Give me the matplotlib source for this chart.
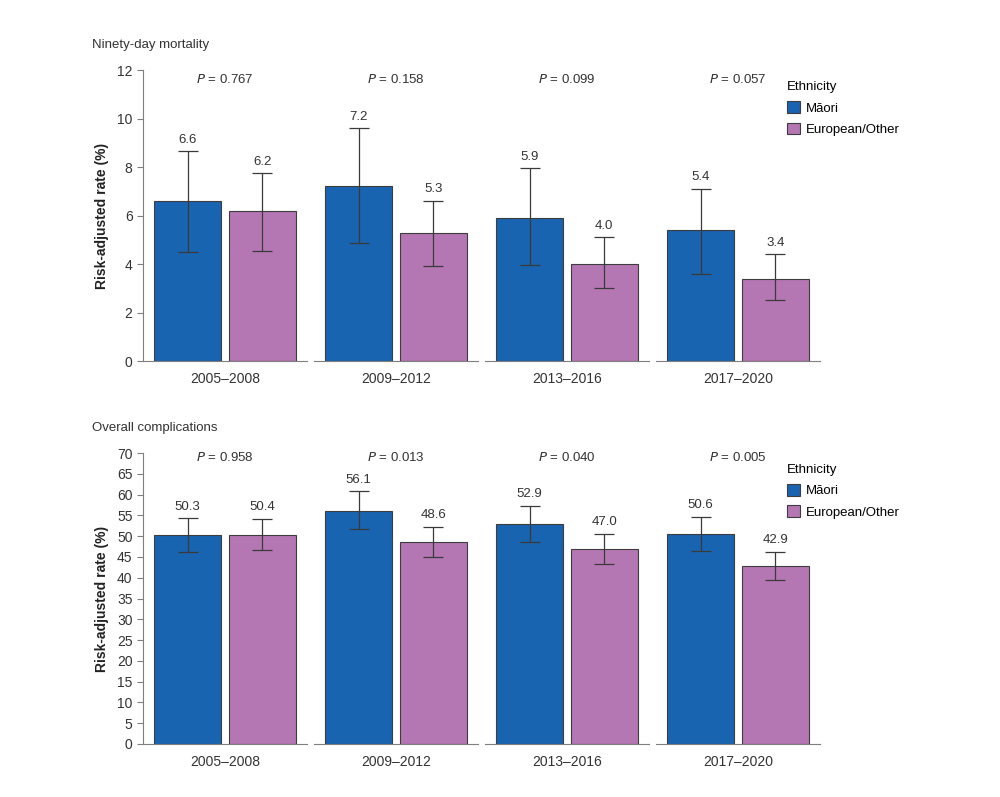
import matplotlib.pyplot as plt

plt.rcParams['font.family'] = ['Liberation Sans', 'DejaVu Sans']

periods = ['2005–2008', '2009–2012', '2013–2016', '2017–2020']
groups = ['Māori', 'European/Other']

mort_maori = [6.6, 7.2, 5.9, 5.4]
mort_euro = [6.2, 5.3, 4.0, 3.4]
mort_maori_lo = [4.5, 4.85, 3.95, 3.6]
mort_maori_hi = [8.65, 9.6, 7.95, 7.1]
mort_euro_lo = [4.55, 3.9, 3.0, 2.5]
mort_euro_hi = [7.75, 6.6, 5.1, 4.4]
mort_p = ['0.767', '0.158', '0.099', '0.057']

comp_maori = [50.3, 56.1, 52.9, 50.6]
comp_euro = [50.4, 48.6, 47.0, 42.9]
comp_maori_lo = [46.2, 51.7, 48.6, 46.4]
comp_maori_hi = [54.3, 60.8, 57.3, 54.7]
comp_euro_lo = [46.7, 45.1, 43.3, 39.5]
comp_euro_hi = [54.2, 52.3, 50.6, 46.2]
comp_p = ['0.958', '0.013', '0.040', '0.005']

BLUE = '#1964b0'
PURPLE = '#b577b3'
GREY = '#7f7f7f'


def draw_row(fig, bottom, height, title, ymax, step, p_y, leg_top,
             maori, euro, m_lo, m_hi, e_lo, e_hi, pvals):
    left = 0.143
    w = 0.164
    gap = 0.007
    bars = None
    for k in range(4):
        ax = fig.add_axes([left + k * (w + gap), bottom, w, height])
        vals = [maori[k], euro[k]]
        lo = [m_lo[k], e_lo[k]]
        hi = [m_hi[k], e_hi[k]]
        bars = ax.bar([0, 1], vals, width=0.9, color=[BLUE, PURPLE],
                      edgecolor='#3d3d3d', linewidth=0.8)
        err = [[v - l for v, l in zip(vals, lo)], [h - v for v, h in zip(vals, hi)]]
        ax.errorbar([0, 1], vals, yerr=err, fmt='none', ecolor='#3a3a3a',
                    elinewidth=0.9, capsize=7, capthick=0.9)
        for x, v, h in zip([0, 1], vals, hi):
            ax.annotate(f'{v:.1f}', (x, h), xytext=(0, 4), textcoords='offset points',
                        ha='center', va='bottom', fontsize=9.5, color='#333333')
        ax.text(0.5, p_y, f'$P$ = {pvals[k]}', ha='center', va='center',
                fontsize=9.5, color='#333333')
        ax.set_xlim(-0.6, 1.6)
        ax.set_ylim(0, ymax)
        ax.set_xticks([0.5])
        ax.set_xticklabels([periods[k]], fontsize=10, color='#333333')
        ax.tick_params(axis='x', length=0, pad=8)
        for s in ['top', 'right']:
            ax.spines[s].set_visible(False)
        ax.spines['bottom'].set_color(GREY)
        ax.spines['left'].set_color(GREY)
        if k == 0:
            ax.set_yticks(range(0, ymax + 1, step))
            ax.tick_params(axis='y', colors=GREY, labelcolor='#333333',
                           labelsize=10, length=4, width=0.8)
            ax.set_ylabel('Risk-adjusted rate (%)', fontsize=10, fontweight='bold',
                          color='#222222', labelpad=6)
        else:
            ax.spines['left'].set_visible(False)
            ax.set_yticks([])
    fig.legend(bars, groups, title='Ethnicity', loc='upper left',
               bbox_to_anchor=(0.787, leg_top), frameon=False, fontsize=9.5,
               title_fontsize=9.5, handlelength=1.0, handleheight=1.0,
               handletextpad=0.45, borderaxespad=0, borderpad=0,
               labelspacing=0.6, alignment='left')
    fig.text(0.092, bottom + height + 0.031, title, fontsize=9.5, color='#333333',
             va='center', ha='left')


fig = plt.figure(figsize=(10, 7.97), dpi=100)
draw_row(fig, 0.547, 0.365, 'Ninety-day mortality', 12, 2, 11.6, 0.898,
         mort_maori, mort_euro, mort_maori_lo, mort_maori_hi,
         mort_euro_lo, mort_euro_hi, mort_p)
draw_row(fig, 0.0665, 0.365, 'Overall complications', 70, 5, 69.0, 0.418,
         comp_maori, comp_euro, comp_maori_lo, comp_maori_hi,
         comp_euro_lo, comp_euro_hi, comp_p)

plt.savefig('out.png', dpi=100)
